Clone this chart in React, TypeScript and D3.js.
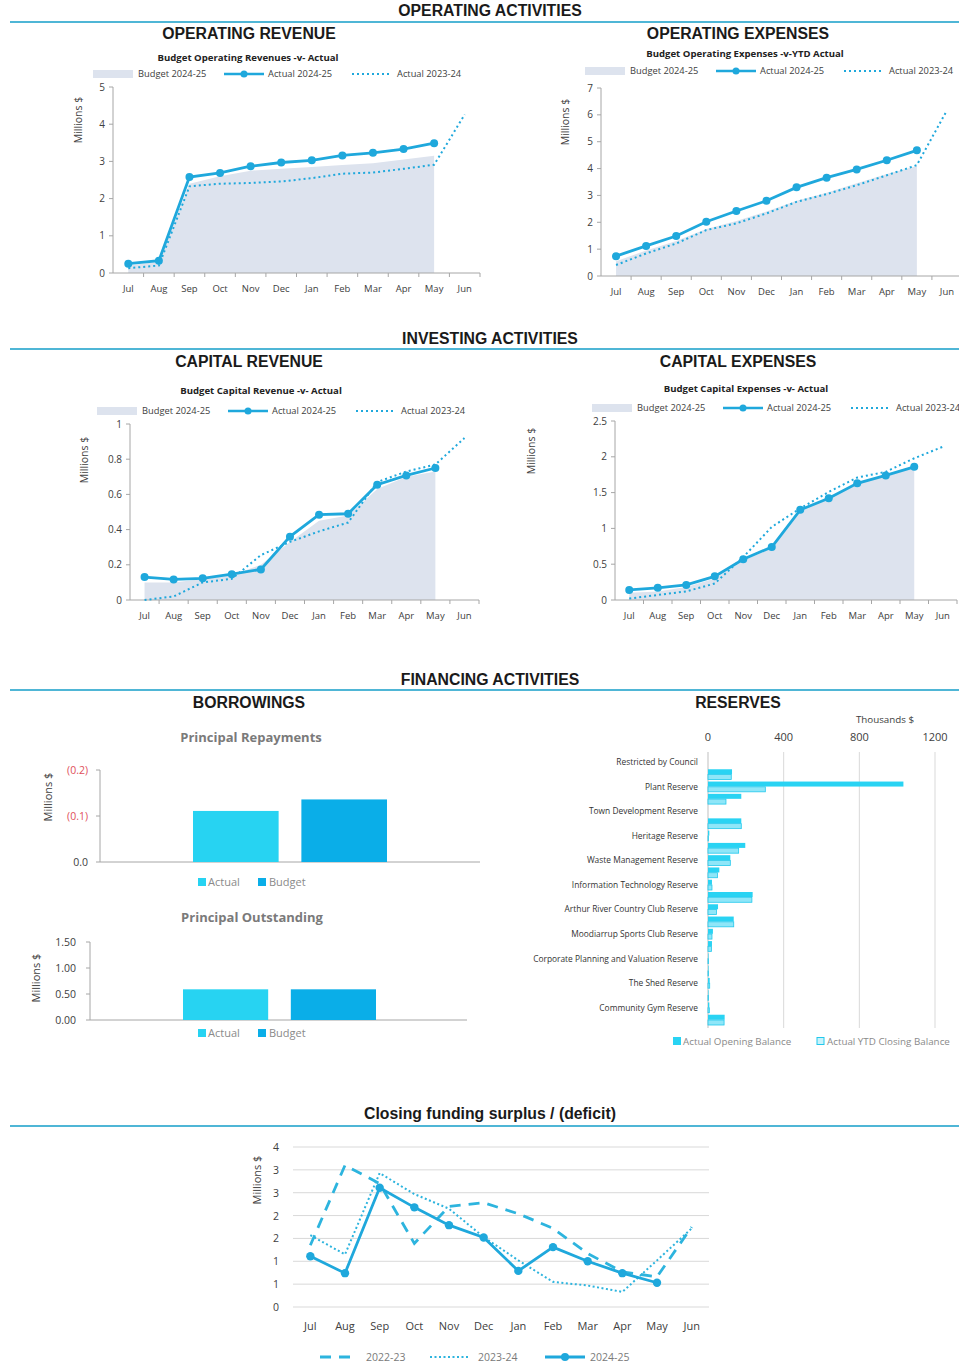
import React from "react";
import * as d3 from "d3";

// ---- data ----
const months = ["Jul", "Aug", "Sep", "Oct", "Nov", "Dec", "Jan", "Feb", "Mar", "Apr", "May", "Jun"];

const opRevBudget = [0.2, 0.3, 2.4, 2.6, 2.75, 2.8, 2.85, 2.9, 2.95, 3.05, 3.15];
const opRevActual = [0.25, 0.33, 2.58, 2.69, 2.87, 2.97, 3.03, 3.16, 3.23, 3.33, 3.49];
const opRevPrior = [0.13, 0.2, 2.33, 2.4, 2.42, 2.46, 2.55, 2.67, 2.7, 2.8, 2.91, 4.26];

const opExpBudget = [0.55, 0.95, 1.3, 1.75, 2.05, 2.4, 2.8, 3.1, 3.45, 3.8, 4.1];
const opExpActual = [0.74, 1.12, 1.49, 2.02, 2.42, 2.8, 3.3, 3.66, 3.97, 4.31, 4.68];
const opExpPrior = [0.41, 0.84, 1.21, 1.71, 1.96, 2.33, 2.76, 3.05, 3.38, 3.75, 4.13, 6.17];

const capRevBudget = [0.1, 0.1, 0.12, 0.14, 0.2, 0.33, 0.45, 0.48, 0.63, 0.7, 0.73];
const capRevActual = [0.13, 0.117, 0.123, 0.147, 0.174, 0.36, 0.485, 0.49, 0.655, 0.708, 0.75];
const capRevPrior = [0.0, 0.02, 0.1, 0.12, 0.255, 0.33, 0.39, 0.44, 0.67, 0.73, 0.77, 0.92];

const capExpBudget = [0.1, 0.12, 0.18, 0.3, 0.55, 0.72, 1.25, 1.42, 1.62, 1.73, 1.85];
const capExpActual = [0.14, 0.17, 0.21, 0.33, 0.57, 0.74, 1.26, 1.42, 1.63, 1.74, 1.86];
const capExpPrior = [0.02, 0.07, 0.12, 0.23, 0.6, 1.02, 1.28, 1.51, 1.71, 1.79, 1.98, 2.14];

const borrowCats = ["Actual", "Budget"];
const repayments = [-0.111, -0.136];
const outstanding = [0.59, 0.59];

// every other reserve label is hidden in the original chart
const reserveNames = [
  "Restricted by Council", "",
  "Plant Reserve", "",
  "Town Development Reserve", "",
  "Heritage Reserve", "",
  "Waste Management Reserve", "",
  "Information Technology Reserve", "",
  "Arthur River Country Club Reserve", "",
  "Moodiarrup Sports Club Reserve", "",
  "Corporate Planning and Valuation Reserve", "",
  "The Shed Reserve", "",
  "Community Gym Reserve", "",
];
const reserveOpening = [0, 127, 1033, 176, 0, 176, 7, 197, 118, 60, 21, 236, 53, 136, 26, 21, 3, 3, 9, 3, 7, 88];
const reserveClosing = [0, 123, 303, 95, 0, 176, 2, 162, 118, 50, 21, 232, 45, 136, 21, 18, 3, 3, 9, 3, 7, 85];
const reserveTicks = [0, 400, 800, 1200];

const surplus2223 = [1.35, 3.1, 2.7, 1.39, 2.2, 2.28, 2.04, 1.72, 1.17, 0.77, 0.66, 1.75];
const surplus2324 = [1.57, 1.15, 2.93, 2.47, 2.15, 1.53, 1.02, 0.55, 0.47, 0.33, 1.02, 1.72];
const surplus2425 = [1.11, 0.74, 2.61, 2.18, 1.79, 1.52, 0.79, 1.31, 1.0, 0.74, 0.53];

// ---- styles ----
const HEAD = "'Liberation Sans', Arial, sans-serif";
const BODY = "'Open Sans', Lato, sans-serif";
const BLUE = "#1fa8dc";
const LINE2 = "#2db4de";
const BUDGET_FILL = "#dde3ee";
const AXIS = "#a6a6a6";
const TXT = "#404040";
const RULE = "#4fb6d6";

type LineCfg = {
  title: string;
  titleX: number;
  titleY: number;
  legendX: number;
  legendY: number;
  left: number;
  right: number;
  top: number;
  bottom: number;
  max: number;
  step: number;
  fmt: (v: number) => string;
  budget: number[];
  actual: number[];
  prior: number[];
  ylabX: number;
  ylabY: number;
};

const Legend = ({ x, y }: { x: number; y: number }) => (
  <g fontFamily={BODY} fontSize={9.3} fill={TXT}>
    <rect x={x} y={y - 4} width={40} height={8} fill={BUDGET_FILL} />
    <text x={x + 45} y={y + 3}>Budget 2024-25</text>
    <line x1={x + 131} x2={x + 171} y1={y} y2={y} stroke={BLUE} strokeWidth={2.5} />
    <circle cx={x + 151} cy={y} r={3.5} fill={BLUE} />
    <text x={x + 175} y={y + 3}>Actual 2024-25</text>
    <line x1={x + 259} x2={x + 299} y1={y} y2={y} stroke={BLUE} strokeWidth={2} strokeDasharray="2,3" />
    <text x={x + 304} y={y + 3}>Actual 2023-24</text>
  </g>
);

const LineChart = ({ c }: { c: LineCfg }) => {
  const x = d3.scaleBand<string>().domain(months).range([c.left, c.right]);
  const y = d3.scaleLinear().domain([0, c.max]).range([c.bottom, c.top]);
  const cx = (i: number) => (x(months[i]) ?? 0) + x.bandwidth() / 2;
  const area = d3.area<number>().x((_, i) => cx(i)).y0(c.bottom).y1((d) => y(d));
  const line = d3.line<number>().x((_, i) => cx(i)).y((d) => y(d));
  const ticks = d3.range(0, c.max + c.step / 2, c.step);
  return (
    <g>
      <text x={c.titleX} y={c.titleY} textAnchor="middle" fontFamily={BODY} fontSize={9.6} fontWeight="bold" fill="#222">
        {c.title}
      </text>
      <Legend x={c.legendX} y={c.legendY} />
      <path d={area(c.budget) ?? ""} fill={BUDGET_FILL} />
      {/* axes */}
      <line x1={c.left} x2={c.left} y1={c.top} y2={c.bottom} stroke={AXIS} />
      <line x1={c.left} x2={c.right} y1={c.bottom} y2={c.bottom} stroke={AXIS} />
      {ticks.map((t) => (
        <g key={t}>
          <line x1={c.left - 4} x2={c.left} y1={y(t)} y2={y(t)} stroke={AXIS} />
          <text x={c.left - 8} y={y(t) + 3.5} textAnchor="end" fontFamily={BODY} fontSize={10} fill={TXT}>
            {c.fmt(t)}
          </text>
        </g>
      ))}
      {months.map((m, i) => (
        <g key={m}>
          <line x1={x(m)! + x.bandwidth()} x2={x(m)! + x.bandwidth()} y1={c.bottom} y2={c.bottom + 4} stroke={AXIS} />
          <text x={cx(i)} y={c.bottom + 19} textAnchor="middle" fontFamily={BODY} fontSize={9.5} fill={TXT}>
            {m}
          </text>
        </g>
      ))}
      <text
        transform={`translate(${c.ylabX},${c.ylabY}) rotate(-90)`}
        textAnchor="middle"
        fontFamily={BODY}
        fontSize={10.5}
        fill={TXT}
      >
        Millions $
      </text>
      <path d={line(c.prior) ?? ""} fill="none" stroke={BLUE} strokeWidth={2} strokeDasharray="2,3" />
      <path d={line(c.actual) ?? ""} fill="none" stroke={BLUE} strokeWidth={2.8} />
      {c.actual.map((d, i) => (
        <circle key={i} cx={cx(i)} cy={y(d)} r={4} fill={BLUE} />
      ))}
    </g>
  );
};

const lineCharts: LineCfg[] = [
  {
    title: "Budget Operating Revenues -v- Actual", titleX: 248, titleY: 61, legendX: 93, legendY: 74,
    left: 113, right: 480, top: 87, bottom: 273, max: 5, step: 1, fmt: (v) => d3.format("d")(v),
    budget: opRevBudget, actual: opRevActual, prior: opRevPrior, ylabX: 82, ylabY: 120,
  },
  {
    title: "Budget Operating Expenses -v-YTD Actual", titleX: 745, titleY: 57, legendX: 585, legendY: 71,
    left: 601, right: 962, top: 88, bottom: 276, max: 7, step: 1, fmt: (v) => d3.format("d")(v),
    budget: opExpBudget, actual: opExpActual, prior: opExpPrior, ylabX: 569, ylabY: 122,
  },
  {
    title: "Budget Capital Revenue -v- Actual", titleX: 261, titleY: 394, legendX: 97, legendY: 411,
    left: 130, right: 479, top: 424, bottom: 600, max: 1, step: 0.2, fmt: (v) => d3.format("~g")(+v.toFixed(1)),
    budget: capRevBudget, actual: capRevActual, prior: capRevPrior, ylabX: 88, ylabY: 460,
  },
  {
    title: "Budget Capital Expenses -v- Actual", titleX: 746, titleY: 392, legendX: 592, legendY: 408,
    left: 615, right: 957, top: 421, bottom: 600, max: 2.5, step: 0.5, fmt: (v) => d3.format("~g")(+v.toFixed(1)),
    budget: capExpBudget, actual: capExpActual, prior: capExpPrior, ylabX: 535, ylabY: 451,
  },
];

const SectionHeader = ({ label, y, lineY }: { label: string; y: number; lineY: number }) => (
  <g>
    <text x={490} y={y} textAnchor="middle" fontFamily={HEAD} fontWeight="bold" fontSize={15.8} fill="#1a1a1a">
      {label}
    </text>
    <line x1={10} x2={959} y1={lineY} y2={lineY} stroke={RULE} strokeWidth={2} />
  </g>
);

const SubHeader = ({ label, x, y }: { label: string; x: number; y: number }) => (
  <text x={x} y={y} textAnchor="middle" fontFamily={HEAD} fontWeight="bold" fontSize={15.8} fill="#1a1a1a">
    {label}
  </text>
);

const BarLegend = ({ x, y }: { x: number; y: number }) => (
  <g fontFamily={BODY} fontSize={11} fill="#8a8a8a">
    <rect x={x} y={y - 4} width={8} height={8} fill="#27d3f2" />
    <text x={x + 10} y={y + 4}>Actual</text>
    <rect x={x + 60} y={y - 4} width={8} height={8} fill="#0aaee8" />
    <text x={x + 71} y={y + 4}>Budget</text>
  </g>
);

const Borrowings = () => {
  const xb1 = d3.scaleBand<string>().domain(borrowCats).range([193, 387]).paddingInner(0.21);
  const y1 = d3.scaleLinear().domain([0, -0.2]).range([862, 770]);
  const xb2 = d3.scaleBand<string>().domain(borrowCats).range([183, 376]).paddingInner(0.21);
  const y2 = d3.scaleLinear().domain([0, 1.5]).range([1020, 942]);
  const colors = ["#27d3f2", "#0aaee8"];
  const fmt1 = (v: number) => (v < 0 ? `(${Math.abs(v).toFixed(1)})` : v.toFixed(1));
  return (
    <g>
      <text x={251} y={742} textAnchor="middle" fontFamily={BODY} fontWeight="bold" fontSize={13} fill="#7a7a7a">
        Principal Repayments
      </text>
      <line x1={100} x2={100} y1={770} y2={862} stroke={AXIS} />
      <line x1={100} x2={480} y1={862} y2={862} stroke={AXIS} />
      {[0, -0.1, -0.2].map((t) => (
        <g key={t}>
          <line x1={96} x2={100} y1={y1(t)} y2={y1(t)} stroke={AXIS} />
          <text x={88} y={y1(t) + 4} textAnchor="end" fontFamily={BODY} fontSize={10.5} fill={t < 0 ? "#e0505a" : TXT}>
            {fmt1(t)}
          </text>
        </g>
      ))}
      {borrowCats.map((c, i) => (
        <rect key={c} x={xb1(c)} y={y1(repayments[i])} width={xb1.bandwidth()} height={862 - y1(repayments[i])} fill={colors[i]} />
      ))}
      <text transform="translate(52,797) rotate(-90)" textAnchor="middle" fontFamily={BODY} fontSize={11} fill={TXT}>
        Millions $
      </text>
      <BarLegend x={198} y={882} />

      <text x={252} y={922} textAnchor="middle" fontFamily={BODY} fontWeight="bold" fontSize={13} fill="#7a7a7a">
        Principal Outstanding
      </text>
      <line x1={90} x2={90} y1={942} y2={1020} stroke={AXIS} />
      <line x1={90} x2={467} y1={1020} y2={1020} stroke={AXIS} />
      {[0, 0.5, 1, 1.5].map((t) => (
        <g key={t}>
          <line x1={86} x2={90} y1={y2(t)} y2={y2(t)} stroke={AXIS} />
          <text x={76} y={y2(t) + 4} textAnchor="end" fontFamily={BODY} fontSize={10.5} fill={TXT}>
            {t.toFixed(2)}
          </text>
        </g>
      ))}
      {borrowCats.map((c, i) => (
        <rect key={c} x={xb2(c)} y={y2(outstanding[i])} width={xb2.bandwidth()} height={1020 - y2(outstanding[i])} fill={colors[i]} />
      ))}
      <text transform="translate(40,978) rotate(-90)" textAnchor="middle" fontFamily={BODY} fontSize={11} fill={TXT}>
        Millions $
      </text>
      <BarLegend x={198} y={1033} />
    </g>
  );
};

const Reserves = () => {
  const x = d3.scaleLinear().domain([0, 1200]).range([708, 935]);
  const y = d3.scaleBand<number>().domain(d3.range(reserveNames.length)).range([756, 1026]);
  const sub = d3.scaleBand<string>().domain(["open", "close"]).range([1, y.bandwidth() - 1]).paddingInner(0.05);
  return (
    <g>
      <text x={885} y={723} textAnchor="middle" fontFamily={BODY} fontSize={9.8} fill={TXT}>
        Thousands $
      </text>
      {reserveTicks.map((t) => (
        <g key={t}>
          <line x1={x(t)} x2={x(t)} y1={752} y2={1028} stroke={t === 0 ? "#bfbfbf" : "#d9d9d9"} />
          <text x={x(t)} y={741} textAnchor="middle" fontFamily={BODY} fontSize={11} fill={TXT}>
            {t}
          </text>
        </g>
      ))}
      {reserveNames.map((n, i) => (
        <g key={i}>
          {n && (
            <text x={698} y={y(i)! + y.bandwidth() / 2 + 3} textAnchor="end" fontFamily={BODY} fontSize={8.4} fill="#333">
              {n}
            </text>
          )}
          <rect x={x(0)} y={y(i)! + sub("open")!} width={x(reserveOpening[i]) - x(0)} height={sub.bandwidth()} fill="#29d3f3" />
          <rect
            x={x(0)}
            y={y(i)! + sub("close")!}
            width={x(reserveClosing[i]) - x(0)}
            height={sub.bandwidth()}
            fill="#8fe6f8"
            stroke={reserveClosing[i] > 0 ? "#22c8ec" : "none"}
            strokeWidth={0.8}
          />
        </g>
      ))}
      <g fontFamily={BODY} fontSize={9.8} fill="#8a8a8a">
        <rect x={673} y={1037} width={8} height={8} fill="#29d3f3" />
        <text x={683} y={1045}>Actual Opening Balance</text>
        <rect x={817} y={1037.5} width={7} height={7} fill="#c8f3fc" stroke="#22c8ec" />
        <text x={827} y={1045}>Actual YTD Closing Balance</text>
      </g>
    </g>
  );
};

const Surplus = () => {
  const x = d3.scaleBand<string>().domain(months).range([293, 709]);
  const y = d3.scaleLinear().domain([0, 3.5]).range([1307, 1147]);
  const cx = (i: number) => (x(months[i]) ?? 0) + x.bandwidth() / 2;
  const line = d3.line<number>().x((_, i) => cx(i)).y((d) => y(d));
  const ticks = d3.range(0, 3.51, 0.5);
  return (
    <g>
      {ticks.map((t) => (
        <g key={t}>
          <line x1={293} x2={709} y1={y(t)} y2={y(t)} stroke="#d9d9d9" />
          <text x={279} y={y(t) + 4} textAnchor="end" fontFamily={BODY} fontSize={10.5} fill={TXT}>
            {d3.format(".0f")(t)}
          </text>
        </g>
      ))}
      {months.map((m, i) => (
        <text key={m} x={cx(i)} y={1330} textAnchor="middle" fontFamily={BODY} fontSize={11} fill={TXT}>
          {m}
        </text>
      ))}
      <text transform="translate(261,1180) rotate(-90)" textAnchor="middle" fontFamily={BODY} fontSize={11} fill={TXT}>
        Millions $
      </text>
      <path d={line(surplus2223) ?? ""} fill="none" stroke={LINE2} strokeWidth={2.8} strokeDasharray="11,8" />
      <path d={line(surplus2324) ?? ""} fill="none" stroke={LINE2} strokeWidth={2} strokeDasharray="2,2.5" />
      <path d={line(surplus2425) ?? ""} fill="none" stroke={BLUE} strokeWidth={2.8} />
      {surplus2425.map((d, i) => (
        <circle key={i} cx={cx(i)} cy={y(d)} r={4.2} fill={BLUE} />
      ))}
      <g fontFamily={BODY} fontSize={10.5} fill="#7a7a7a">
        <line x1={320} x2={358} y1={1357} y2={1357} stroke={LINE2} strokeWidth={2.8} strokeDasharray="11,8" />
        <text x={366} y={1361}>2022-23</text>
        <line x1={430} x2={470} y1={1357} y2={1357} stroke={LINE2} strokeWidth={2} strokeDasharray="2,2.5" />
        <text x={478} y={1361}>2023-24</text>
        <line x1={545} x2={585} y1={1357} y2={1357} stroke={BLUE} strokeWidth={2.8} />
        <circle cx={565} cy={1357} r={4} fill={BLUE} />
        <text x={590} y={1361}>2024-25</text>
      </g>
    </g>
  );
};

export default function App() {
  return (
    <div style={{ position: "absolute", left: 0, top: 0 }}>
      <svg width={959} height={1365} style={{ display: "block", background: "#fff" }}>
        <SectionHeader label="OPERATING ACTIVITIES" y={16} lineY={22} />
        <SubHeader label="OPERATING REVENUE" x={249} y={39} />
        <SubHeader label="OPERATING EXPENSES" x={738} y={39} />
        {lineCharts.slice(0, 2).map((c) => (
          <LineChart key={c.title} c={c} />
        ))}

        <SectionHeader label="INVESTING ACTIVITIES" y={344} lineY={349} />
        <SubHeader label="CAPITAL REVENUE" x={249} y={367} />
        <SubHeader label="CAPITAL EXPENSES" x={738} y={367} />
        {lineCharts.slice(2).map((c) => (
          <LineChart key={c.title} c={c} />
        ))}

        <SectionHeader label="FINANCING ACTIVITIES" y={685} lineY={690} />
        <SubHeader label="BORROWINGS" x={249} y={708} />
        <SubHeader label="RESERVES" x={738} y={708} />
        <Borrowings />
        <Reserves />

        <SectionHeader label="Closing funding surplus / (deficit)" y={1119} lineY={1126} />
        <Surplus />
      </svg>
    </div>
  );
}
